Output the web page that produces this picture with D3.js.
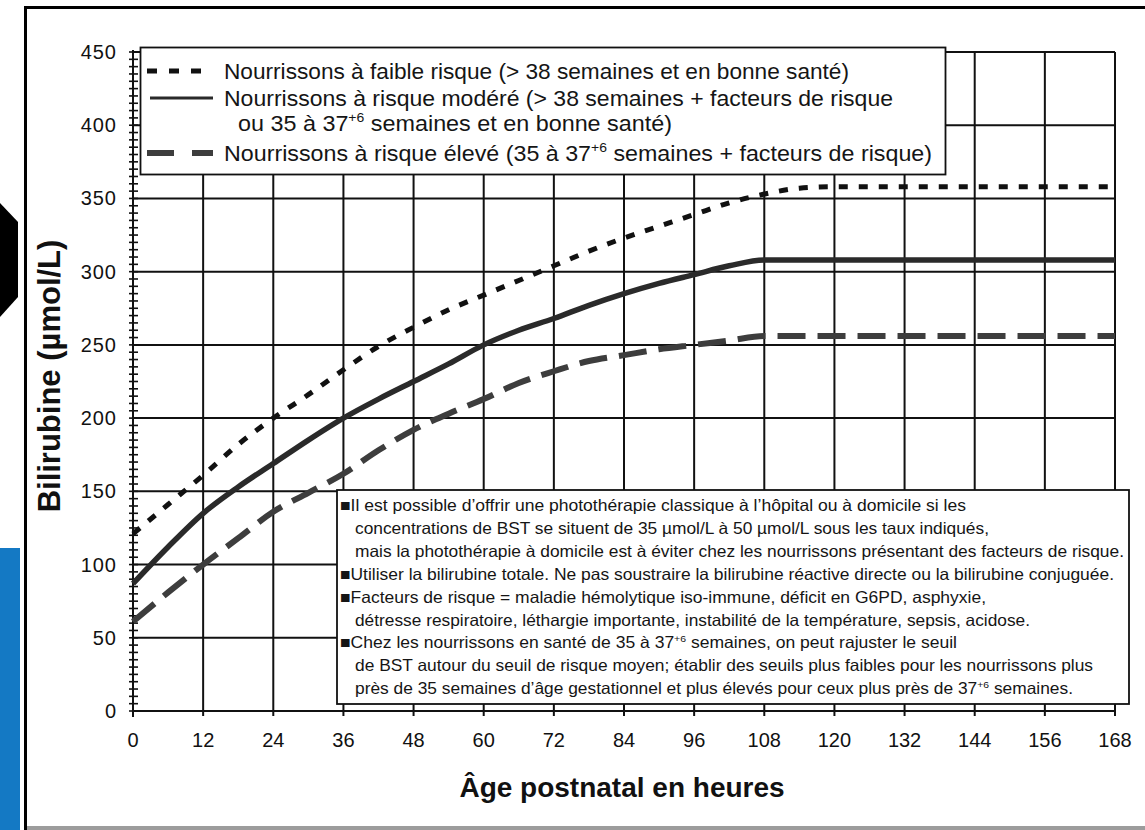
<!DOCTYPE html>
<html>
<head>
<meta charset="utf-8">
<script src="https://cdnjs.cloudflare.com/ajax/libs/d3/7.8.5/d3.min.js"></script>
<style>
  body { margin: 0; background: #fff; }
  svg { display: block; }
</style>
</head>
<body>
<div id="my_dataviz"></div>
<script>
// values: postnatal age (h) -> bilirubin (µmol/L)
const hours      = [0, 6, 12, 18, 24, 30, 36, 42, 48, 54, 60, 66, 72, 78, 84, 90, 96, 102, 108, 114, 120, 168];
const lowRisk    = [121, 141, 161, 182, 200, 216, 233, 249, 262, 274, 284, 294, 304, 314, 323, 331, 339, 347, 353, 357, 358, 358];
const mediumRisk = [87, 112, 135, 153, 169, 185, 200, 213, 225, 237, 250, 260, 268, 277, 285, 292, 298, 304, 308, 308, 308, 308];
const highRisk   = [61, 81, 100, 118, 136, 149, 162, 178, 192, 203, 213, 224, 232, 239, 243, 247, 250, 253, 256, 256, 256, 256];

const xTicks = [0, 12, 24, 36, 48, 60, 72, 84, 96, 108, 120, 132, 144, 156, 168];
const yTicks = [0, 50, 100, 150, 200, 250, 300, 350, 400, 450];

// {..} = superscript
const legendLabels = [
  "Nourrissons à faible risque (> 38 semaines et en bonne santé)",
  "Nourrissons à risque modéré (> 38 semaines + facteurs de risque",
  "ou 35 à 37{+6} semaines et en bonne santé)",
  "Nourrissons à risque élevé (35 à 37{+6} semaines + facteurs de risque)"
];
const notes = [
  "■Il est possible d’offrir une photothérapie classique à l’hôpital ou à domicile si les",
  "concentrations de BST se situent de 35 µmol/L à 50 µmol/L sous les taux indiqués,",
  "mais la photothérapie à domicile est à éviter chez les nourrissons présentant des facteurs de risque.",
  "■Utiliser la bilirubine totale. Ne pas soustraire la bilirubine réactive directe ou la bilirubine conjuguée.",
  "■Facteurs de risque = maladie hémolytique iso-immune, déficit en G6PD, asphyxie,",
  "détresse respiratoire, léthargie importante, instabilité de la température, sepsis, acidose.",
  "■Chez les nourrissons en santé de 35 à 37{+6} semaines, on peut rajuster le seuil",
  "de BST autour du seuil de risque moyen; établir des seuils plus faibles pour les nourrissons plus",
  "près de 35 semaines d’âge gestationnel et plus élevés pour ceux plus près de 37{+6} semaines."
];

const margin = {top: 52, right: 30, bottom: 119, left: 133},
    width = 1145 - margin.left - margin.right,
    height = 830 - margin.top - margin.bottom;

const font = "'Liberation Sans', Arial, sans-serif";
const narrow = "'Liberation Sans Narrow', 'Arial Narrow', 'Liberation Sans', sans-serif";

const svg = d3.select("#my_dataviz")
  .append("svg")
    .attr("width", 1145)
    .attr("height", 830);

// scraps of the page around the scanned figure
svg.append("polygon").attr("points", "0,203 18,222 18,297 0,317").attr("fill", "#000");
svg.append("rect").attr("x", 0).attr("y", 548).attr("width", 20).attr("height", 282).attr("fill", "#1479c4");
svg.append("rect").attr("x", 25).attr("y", 826).attr("width", 1120).attr("height", 4).attr("fill", "#9c9c9c");
svg.append("line").attr("x1", 25.5).attr("x2", 25.5).attr("y1", 6).attr("y2", 830)
  .attr("stroke", "#000").attr("stroke-width", 3);
svg.append("line").attr("x1", 24).attr("x2", 1145).attr("y1", 7.5).attr("y2", 7.5)
  .attr("stroke", "#000").attr("stroke-width", 3);

const g = svg.append("g")
    .attr("transform", `translate(${margin.left}, ${margin.top})`);

const x = d3.scaleLinear().domain([0, 168]).range([0, width]);
const y = d3.scaleLinear().domain([0, 450]).range([height, 0]);

// grid
g.append("g").selectAll("line")
  .data(yTicks)
  .join("line")
    .attr("x1", 0).attr("x2", width)
    .attr("y1", d => y(d)).attr("y2", d => y(d))
    .attr("stroke", "#111").attr("stroke-width", 2);

g.append("g").selectAll("line")
  .data(xTicks)
  .join("line")
    .attr("x1", d => x(d)).attr("x2", d => x(d))
    .attr("y1", y(450)).attr("y2", height + 5)
    .attr("stroke", "#111").attr("stroke-width", 2);

// y axis minor ticks (every 5)
g.append("g").selectAll("line")
  .data(d3.range(0, 451, 5))
  .join("line")
    .attr("x1", -4).attr("x2", 5)
    .attr("y1", d => y(d)).attr("y2", d => y(d))
    .attr("stroke", "#111").attr("stroke-width", 1.6);
g.append("line").attr("x1", 0).attr("x2", 0).attr("y1", y(450) - 2).attr("y2", height + 6)
  .attr("stroke", "#111").attr("stroke-width", 2);

// tick labels
g.append("g").selectAll("text")
  .data(yTicks)
  .join("text")
    .attr("x", -16)
    .attr("y", d => y(d) + 7)
    .attr("text-anchor", "end")
    .attr("font-family", font)
    .attr("font-size", 20)
    .attr("letter-spacing", 1)
    .attr("fill", "#111")
    .text(d => d);

g.append("g").selectAll("text")
  .data(xTicks)
  .join("text")
    .attr("x", d => x(d))
    .attr("y", height + 36)
    .attr("text-anchor", "middle")
    .attr("font-family", font)
    .attr("font-size", 20)
    .attr("fill", "#111")
    .text(d => d);

// axis titles
svg.append("text")
    .attr("x", 622)
    .attr("y", 797)
    .attr("text-anchor", "middle")
    .attr("font-family", font)
    .attr("font-weight", "bold")
    .attr("font-size", 28)
    .attr("fill", "#111")
    .text("Âge postnatal en heures");

svg.append("text")
    .attr("transform", "translate(60, 376) rotate(-90)")
    .attr("text-anchor", "middle")
    .attr("font-family", font)
    .attr("font-weight", "bold")
    .attr("font-size", 31)
    .attr("fill", "#111")
    .text("Bilirubine (µmol/L)");

// curves
const series = [
  {values: highRisk,   color: "#3d3d3d", w: 6,   dash: "28,12"},
  {values: mediumRisk, color: "#2a2a2a", w: 5.5, dash: null},
  {values: lowRisk,    color: "#111",    w: 5,   dash: "9,11"}
];

const line = d3.line()
  .x((d, i) => x(hours[i]))
  .y(d => y(d))
  .curve(d3.curveMonotoneX);

g.selectAll(".curve")
  .data(series)
  .join("path")
    .attr("class", "curve")
    .attr("fill", "none")
    .attr("stroke", d => d.color)
    .attr("stroke-width", d => d.w)
    .attr("stroke-dasharray", d => d.dash)
    .attr("d", d => line(d.values));

// text with {superscript} pieces
function rich(t, str, fs) {
  let shift = 0;
  str.split(/(\{[^}]*\})/).filter(s => s.length).forEach(s => {
    if (s[0] === "{") {
      t.append("tspan").attr("font-size", fs * 0.6).attr("dy", -fs * 0.4).text(s.slice(1, -1));
      shift = fs * 0.4;
    } else {
      t.append("tspan").attr("dy", shift).text(s);
      shift = 0;
    }
  });
}

// legend
svg.append("rect")
    .attr("x", 140.5).attr("y", 47.5).attr("width", 805).attr("height", 127)
    .attr("fill", "#fff").attr("stroke", "#111").attr("stroke-width", 1.8);

const legendRows = [71, 98, 123, 153];
const legendStart = [224, 224, 238, 224];
const legendWidth = [625, 669, 434, 708];
const legendFs = 22.5;

legendLabels.forEach((lab, i) => {
  const t = svg.append("text")
      .attr("x", legendStart[i])
      .attr("y", legendRows[i] + 8)
      .attr("font-family", font)
      .attr("font-size", legendFs)
      .attr("fill", "#151515");
  rich(t, lab, legendFs);
  t.attr("textLength", legendWidth[i]).attr("lengthAdjust", "spacingAndGlyphs");
});

const samples = [
  {row: 0, x1: 147, x2: 204, s: series[2], w: 5, dash: "10,12"},
  {row: 1, x1: 150, x2: 213, s: series[1], w: 3, dash: null},
  {row: 3, x1: 147, x2: 213, s: series[0], w: 6, dash: "27,18"}
];
svg.selectAll(".sample")
  .data(samples)
  .join("line")
    .attr("class", "sample")
    .attr("x1", d => d.x1).attr("x2", d => d.x2)
    .attr("y1", d => legendRows[d.row]).attr("y2", d => legendRows[d.row])
    .attr("stroke", d => d.s.color)
    .attr("stroke-width", d => d.w)
    .attr("stroke-dasharray", d => d.dash);

// notes box
svg.append("rect")
    .attr("x", 337).attr("y", 490).attr("width", 792).attr("height", 214)
    .attr("fill", "#fff").attr("stroke", "#111").attr("stroke-width", 1.8);

const noteEnds = [966, 989, 1124, 1114, 986, 1030, 957, 1093, 1073];
const noteFs = 16.5;
notes.forEach((n, i) => {
  const x0 = n[0] === "■" ? 340 : 355;
  const t = svg.append("text")
      .attr("x", x0)
      .attr("y", 505 + i * 22.9 + 6)
      .attr("font-family", narrow)
      .attr("font-size", noteFs)
      .attr("fill", "#151515");
  rich(t, n, noteFs);
  t.attr("textLength", noteEnds[i] - x0).attr("lengthAdjust", "spacingAndGlyphs");
});
</script>
</body>
</html>
